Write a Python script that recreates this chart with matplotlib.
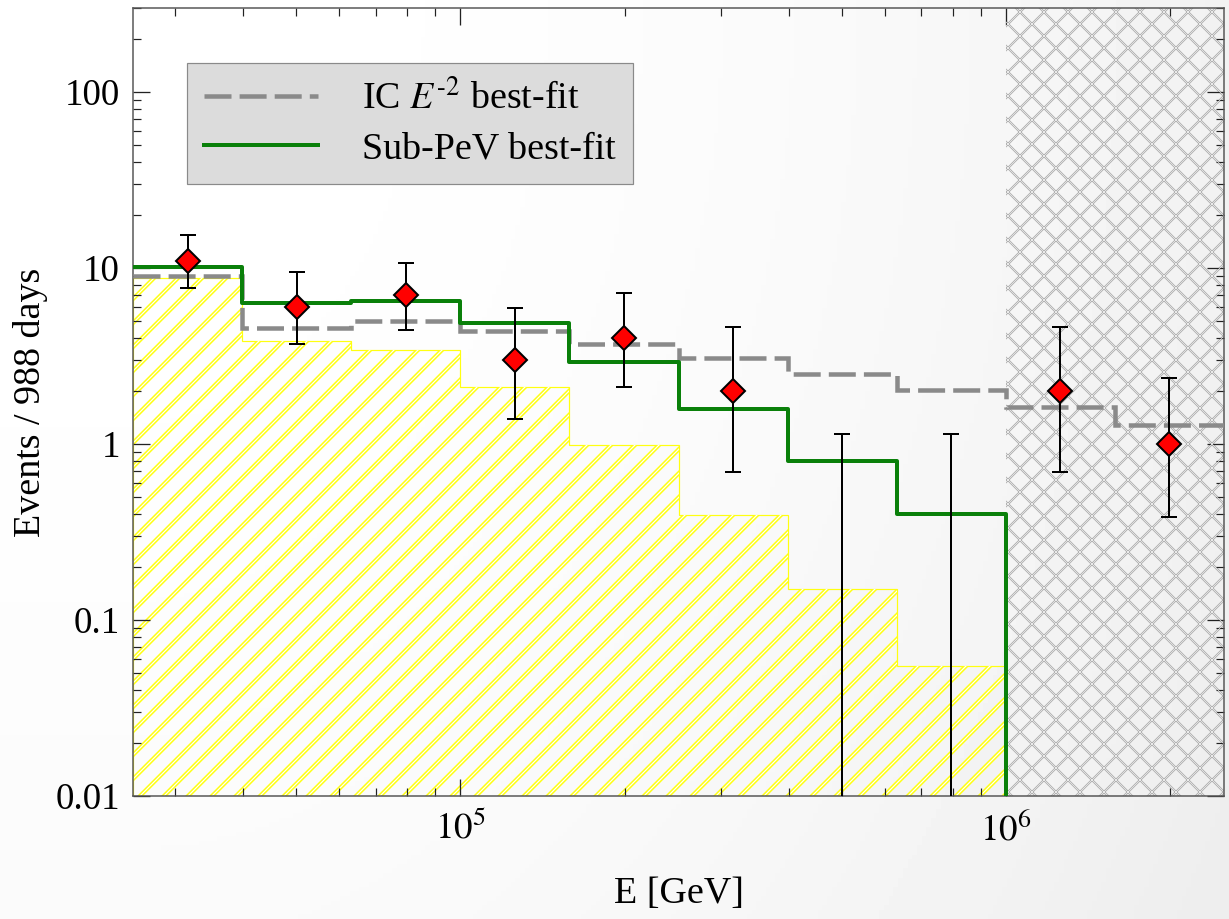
import numpy as np
import matplotlib
matplotlib.use("Agg")
import matplotlib.pyplot as plt
from matplotlib.ticker import LogLocator, NullFormatter

# ---------------- data ----------------
edges = 10 ** np.array([4.4, 4.6, 4.8, 5.0, 5.2, 5.4, 5.6, 5.8, 6.0, 6.2, 6.4])
centers = 10 ** np.array([4.5, 4.7, 4.9, 5.1, 5.3, 5.5, 5.7, 5.9, 6.1, 6.3])
counts = [11, 6, 7, 3, 4, 2, 0, 0, 2, 1]
err_lo = [7.7, 3.7, 4.45, 1.39, 2.1, 0.69, 0.0, 0.0, 0.69, 0.385]
err_hi = [15.4, 9.5, 10.7, 5.9, 7.2, 4.6, 1.14, 1.14, 4.6, 2.37]
ic_e2_fit = [9.0, 4.55, 5.0, 4.4, 3.7, 3.08, 2.5, 2.03, 1.62, 1.28]
subpev_fit = [10.1, 6.3, 6.5, 4.9, 2.93, 1.58, 0.80, 0.40]
yellow_comp = [8.8, 3.85, 3.4, 2.1, 0.99, 0.395, 0.15, 0.055]
pev_cut = 1e6
ytick_vals = [0.01, 0.1, 1, 10, 100]
ytick_labels = ["0.01", "0.1", "1", "10", "100"]
xtick_vals = [1e5, 1e6]
xtick_labels = [r"$10^5$", r"$10^6$"]
label_ic = r"IC $E^{\text{-}2}$ best-fit"
label_sub = "Sub-PeV best-fit"

plt.rcParams["font.family"] = ["Liberation Serif", "DejaVu Serif"]
plt.rcParams["mathtext.fontset"] = "stix"

DPI = 72
W, H = 1229, 919
fig = plt.figure(figsize=(W / DPI, H / DPI), dpi=DPI)

# background gradient (soft vignette toward right / bottom)
bg = fig.add_axes([0, 0, 1, 1], zorder=-10)
yy, xx = np.mgrid[0:1:200j, 0:1:260j]
d2 = 0.75 * (np.clip(xx - 0.1, 0, None) / 0.85) ** 2 + 0.25 * (yy / 0.93) ** 2
img = 1 - 0.063 * np.clip(d2, 0, 1.1)
bg.imshow(img, cmap="gray", vmin=0, vmax=1, aspect="auto", extent=[0, 1, 1, 0])
bg.set_axis_off()

ax = fig.add_axes([133 / W, 1 - 796 / H, (1224 - 133) / W, (796 - 8) / H])
ax.set_facecolor("none")
ax.set_xscale("log")
ax.set_yscale("log")
ax.set_xlim(edges[0], edges[-1])
ax.set_ylim(0.01, 300)

base = 1e-4

def set_hlw(artist, lw):
    if hasattr(artist, "set_hatch_linewidth"):
        artist.set_hatch_linewidth(lw)

# yellow hatched component (double lines)
with plt.rc_context({"hatch.linewidth": 4.2}):
    y1 = ax.stairs(yellow_comp, edges[:9], baseline=base, fill=True,
                   facecolor="none", edgecolor="#ffff10", hatch="/", lw=1.2, zorder=1)
    set_hlw(y1, 4.2)
with plt.rc_context({"hatch.linewidth": 1.2}):
    y2 = ax.stairs(yellow_comp, edges[:9], baseline=base, fill=True,
                   facecolor="none", edgecolor="white", hatch="/", lw=0, zorder=1.1)
    set_hlw(y2, 1.2)

# PeV crosshatch region
with plt.rc_context({"hatch.linewidth": 2.2}):
    c1 = ax.axvspan(pev_cut, edges[-1], facecolor="none", edgecolor="#a8a8a8",
                    hatch="x", lw=0, zorder=1.5)
    set_hlw(c1, 2.2)
with plt.rc_context({"hatch.linewidth": 0.7}):
    c2 = ax.axvspan(pev_cut, edges[-1], facecolor="none", edgecolor="#f4f4f4",
                    hatch="x", lw=0, zorder=1.6)
    set_hlw(c2, 0.7)

# model lines
ax.stairs(ic_e2_fit, edges, baseline=None, color="#8a8a8a", lw=4.5,
          linestyle=(0, (6.0, 1.8)), zorder=3, label=label_ic)
ax.step(edges[:9], np.r_[subpev_fit, base], where="post", color="#0a800a",
        lw=4, zorder=4, label=label_sub)

# data points
counts_a = np.array(counts, float)
lo = np.array(err_lo)
hi = np.array(err_hi)
has = counts_a > 0
ax.errorbar(centers[has], counts_a[has],
            yerr=[counts_a[has] - lo[has], hi[has] - counts_a[has]],
            fmt="D", ms=17, mfc="red", mec="black", mew=2, ecolor="black",
            elinewidth=2, capsize=8, capthick=2, zorder=6)
ax.errorbar(centers[~has], hi[~has], yerr=[hi[~has] - 1e-5, np.zeros((~has).sum())],
            fmt="none", ecolor="black", elinewidth=2, capsize=8, capthick=2, zorder=6)

# ticks
ax.set_yticks(ytick_vals, ytick_labels)
ax.set_xticks(xtick_vals, xtick_labels)
ax.xaxis.set_minor_locator(LogLocator(base=10, subs=np.arange(2, 10), numticks=20))
ax.yaxis.set_minor_locator(LogLocator(base=10, subs=np.arange(2, 10), numticks=20))
ax.xaxis.set_minor_formatter(NullFormatter())
ax.yaxis.set_minor_formatter(NullFormatter())
ax.tick_params(which="both", direction="in", top=True, right=True, color="#222222")
ax.tick_params(which="major", length=17, width=1.3, labelsize=37, pad=13)
ax.tick_params(which="minor", length=8, width=1.2)
ax.tick_params(axis="x", which="major", pad=16)
for s in ax.spines.values():
    s.set_color("#555555")
    s.set_linewidth(1.5)

ax.set_xlabel("E [GeV]", fontsize=38, labelpad=30)
ax.set_ylabel("Events / 988 days", fontsize=38)
ax.yaxis.set_label_coords(-0.078, 0.5)

leg = ax.legend(loc="upper left", bbox_to_anchor=((187 - 133) / 1091, 1 - (63 - 8) / 788),
                fontsize=38, frameon=True, fancybox=False, framealpha=1,
                facecolor="#dcdcdc", edgecolor="#8a8a8a", handlelength=3.0,
                handletextpad=1.15, borderpad=0.45, labelspacing=0.4,
                borderaxespad=0)
leg.get_frame().set_linewidth(1.2)

fig.savefig("out.png", dpi=DPI)
